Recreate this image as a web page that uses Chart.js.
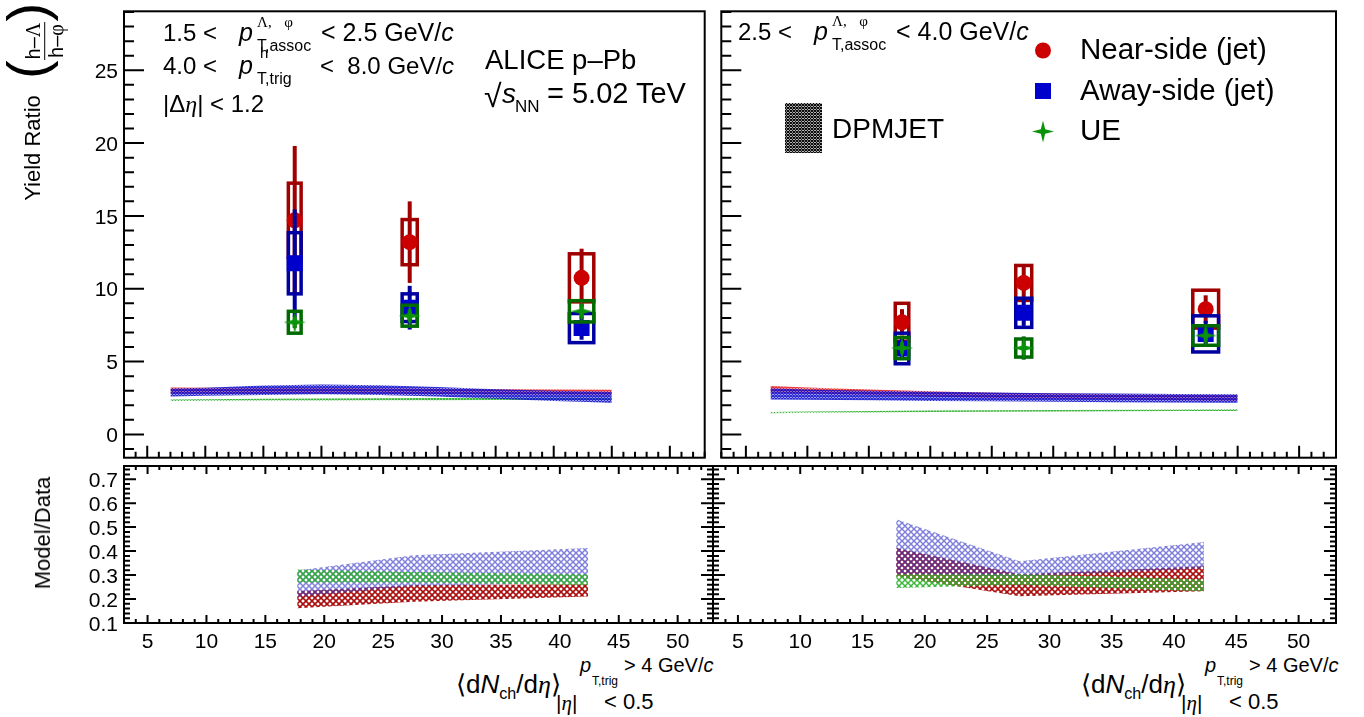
<!DOCTYPE html>
<html>
<head>
<meta charset="utf-8">
<title>h-Lambda / h-phi yield ratio vs multiplicity</title>
<script src="https://cdn.jsdelivr.net/npm/chart.js@4.4.1/dist/chart.umd.min.js"></script>
<style>
  body { margin: 0; width: 1364px; height: 717px; background: #fff; position: relative; overflow: hidden;
         font-family: "Liberation Sans", Arial, Helvetica, sans-serif; }
  canvas { position: absolute; }
  .t { position: absolute; white-space: nowrap; line-height: 1; color: #000; }
  .g { font-family: "Liberation Serif", "DejaVu Serif", serif; font-style: italic; }
  .s { font-family: "Liberation Serif", "DejaVu Serif", serif; }
  .sb { position: relative; top: 0.35em; font-size: 0.62em; }
  .rot { position: absolute; white-space: nowrap; line-height: 1; transform: translate(-50%, -50%) rotate(-90deg); }
</style>
</head>
<body>
<canvas id="topLeft"></canvas>
<canvas id="topRight"></canvas>
<canvas id="botLeft"></canvas>
<canvas id="botRight"></canvas>
<script>
// multiplicity classes and half-widths of the systematic boxes
const multX = [17.7, 27.6, 42.4];
const multXErr = [0.55, 0.65, 1.05];

// 1.5 < pT,assoc < 2.5 GeV/c
const nearA = [14.7, 13.2, 10.75];
const nearAStat = [5.1, 2.8, 2.0];
const nearASyst = [2.55, 1.55, 1.65];
const awayA = [11.75, 8.7, 7.3];
const awayAStat = [3.7, 1.5, 0.8];
const awayASyst = [2.1, 0.95, 1.0];
const ueA = [7.7, 8.15, 8.45];
const ueAStat = [0.4, 0.45, 0.5];
const ueASyst = [0.75, 0.72, 0.73];

// 2.5 < pT,assoc < 4.0 GeV/c
const nearB = [7.7, 10.4, 8.6];
const nearBStat = [0.9, 1.3, 0.95];
const nearBSyst = [1.3, 1.2, 1.3];
const awayB = [5.9, 8.35, 6.9];
const awayBStat = [0.8, 0.9, 0.9];
const awayBSyst = [1.05, 1.0, 1.24];
const ueB = [5.93, 5.93, 6.79];
const ueBStat = [0.4, 0.8, 0.5];
const ueBSyst = [0.73, 0.62, 0.67];

// DPMJET predictions (bands, lower/upper edge)
const dpmX = [7, 10, 15, 20, 25, 30, 35, 40, 45];
const dpmNearALo = [2.8, 2.8, 2.8, 2.82, 2.8, 2.77, 2.74, 2.72, 2.7];
const dpmNearAHi = [3.22, 3.2, 3.18, 3.2, 3.17, 3.13, 3.1, 3.08, 3.07];
const dpmAwayALo = [2.6, 2.65, 2.7, 2.75, 2.7, 2.6, 2.45, 2.3, 2.18];
const dpmAwayAHi = [3.15, 3.2, 3.35, 3.43, 3.38, 3.25, 3.1, 3.0, 2.93];
const dpmUeALo = [2.3, 2.31, 2.32, 2.33, 2.34, 2.35, 2.36, 2.37, 2.36];
const dpmUeAHi = [2.4, 2.42, 2.44, 2.46, 2.48, 2.5, 2.51, 2.52, 2.52];

const dpmNearBLo = [2.86, 2.8, 2.7, 2.6, 2.5, 2.45, 2.4, 2.35, 2.3];
const dpmNearBHi = [3.32, 3.22, 3.08, 2.96, 2.86, 2.8, 2.76, 2.73, 2.7];
const dpmAwayBLo = [2.4, 2.38, 2.34, 2.3, 2.27, 2.24, 2.21, 2.19, 2.18];
const dpmAwayBHi = [3.16, 3.09, 3.0, 2.93, 2.88, 2.83, 2.8, 2.77, 2.75];
const dpmUeBLo = [1.45, 1.48, 1.51, 1.54, 1.56, 1.58, 1.59, 1.6, 1.61];
const dpmUeBHi = [1.54, 1.57, 1.61, 1.64, 1.66, 1.68, 1.7, 1.71, 1.72];

// model / data
const ratioNearALo = [0.162, 0.189, 0.211];
const ratioNearAHi = [0.232, 0.259, 0.262];
const ratioAwayALo = [0.209, 0.254, 0.269];
const ratioAwayAHi = [0.319, 0.383, 0.413];
const ratioUeALo = [0.269, 0.269, 0.259];
const ratioUeAHi = [0.323, 0.313, 0.303];

const ratioNearBLo = [0.294, 0.212, 0.232];
const ratioNearBHi = [0.413, 0.303, 0.337];
const ratioAwayBLo = [0.303, 0.293, 0.328];
const ratioAwayBHi = [0.533, 0.358, 0.438];
const ratioUeBLo = [0.246, 0.26, 0.232];
const ratioUeBHi = [0.303, 0.303, 0.281];

// axes
const xRange = [3, 53];
const xTickLabels = [5, 10, 15, 20, 25, 30, 35, 40, 45, 50];
const yTopRange = [-1.6, 29.05];
const yTopTickLabels = [0, 5, 10, 15, 20, 25];
const yBotRange = [0.1, 0.755];
const yBotTickLabels = [0.1, 0.2, 0.3, 0.4, 0.5, 0.6, 0.7];

const FONT = '"Liberation Sans", Arial, Helvetica, sans-serif';
const RED = '#cc0000', RED_BOX = '#a00000';
const BLUE = '#0000cc', BLUE_BOX = '#0000a0';
const GREEN = '#0a930a', GREEN_BOX = '#006a00';

function hatch(color, size, width) {
  const c = document.createElement('canvas');
  c.width = c.height = size;
  const g = c.getContext('2d');
  g.strokeStyle = color;
  g.lineWidth = width;
  g.beginPath();
  g.moveTo(0, 0); g.lineTo(size, size);
  g.moveTo(size, 0); g.lineTo(0, size);
  g.stroke();
  return g.createPattern(c, 'repeat');
}

function drawStar(g, x, y, r, color) {
  const ri = r * 0.28;
  g.beginPath();
  for (let k = 0; k < 8; k++) {
    const ang = -Math.PI / 2 + k * Math.PI / 4;
    const rr = k % 2 ? ri : r;
    g.lineTo(x + rr * Math.cos(ang), y + rr * Math.sin(ang));
  }
  g.closePath();
  g.fillStyle = color;
  g.fill();
}

function starImage(color, r) {
  const c = document.createElement('canvas');
  const s = Math.ceil(2 * r + 2);
  c.width = c.height = s;
  drawStar(c.getContext('2d'), s / 2, s / 2, r, color);
  return c;
}
const ueStar = starImage(GREEN, 11);

function pts(ys) {
  return ys.map((y, i) => ({ x: multX[i], y }));
}

// higher order is drawn first (underneath)
function band(xs, lo, hi, pattern, order) {
  return [
    { type: 'line', data: lo.map((y, i) => ({ x: xs[i], y })), borderWidth: 0, pointRadius: 0, fill: false, order },
    { type: 'line', data: hi.map((y, i) => ({ x: xs[i], y })), borderWidth: 0, pointRadius: 0, fill: '-1',
      backgroundColor: pattern, order }
  ];
}

function marks(ys, stat, syst, style, color, boxColor, order) {
  const ds = { type: 'scatter', data: pts(ys), stat, syst, boxColor, order,
               pointBackgroundColor: color, pointBorderColor: color, pointBorderWidth: 0 };
  if (style === 'circle') { ds.pointStyle = 'circle'; ds.pointRadius = 8; }
  else if (style === 'rect') { ds.pointStyle = 'rect'; ds.pointRadius = 11.3; }
  else { ds.pointStyle = ueStar; ds.pointRadius = 11; }
  return ds;
}

function forTicks(min, max, step, major, fn) {
  const k0 = Math.ceil(min / step - 1e-6), k1 = Math.floor(max / step + 1e-6);
  const ratio = Math.round(major / step);
  for (let k = k0; k <= k1; k++) fn(k * step, k % ratio === 0);
}

// frame with inward ticks, ROOT style
const rootFrame = {
  id: 'rootFrame',
  afterDraw(chart, args, o) {
    const { ctx, chartArea: a, scales: { x, y } } = chart;
    ctx.save();
    ctx.strokeStyle = '#000';
    ctx.lineWidth = 2;
    ctx.beginPath();
    forTicks(x.min, x.max, o.xMinor, o.xMajor, (v, major) => {
      const px = x.getPixelForValue(v), len = major ? o.xLen[0] : o.xLen[1];
      ctx.moveTo(px, a.bottom); ctx.lineTo(px, a.bottom - len);
      if (o.xTop) { ctx.moveTo(px, a.top); ctx.lineTo(px, a.top + len); }
    });
    forTicks(y.min, y.max, o.yMinor, o.yMajor, (v, major) => {
      const py = y.getPixelForValue(v), len = major ? o.yLen[0] : o.yLen[1];
      ctx.moveTo(a.left, py); ctx.lineTo(a.left + len, py);
      if (o.yRight) { ctx.moveTo(a.right, py); ctx.lineTo(a.right - len, py); }
    });
    ctx.stroke();
    ctx.strokeRect(a.left, a.top, a.right - a.left, a.bottom - a.top);
    ctx.restore();
  }
};

// systematic boxes and statistical bars, drawn just before each marker set
const errorBoxes = {
  id: 'errorBoxes',
  beforeDatasetDraw(chart, args) {
    const ds = chart.data.datasets[args.index];
    if (!ds.stat) return;
    const { ctx, scales: { x, y } } = chart;
    ctx.save();
    ctx.strokeStyle = ds.boxColor;
    ds.data.forEach((p, i) => {
      const xl = x.getPixelForValue(p.x - multXErr[i]), xr = x.getPixelForValue(p.x + multXErr[i]);
      const yt = y.getPixelForValue(p.y + ds.syst[i]), yb = y.getPixelForValue(p.y - ds.syst[i]);
      ctx.lineWidth = 3.5;
      ctx.strokeRect(xl, yt, xr - xl, yb - yt);
      const xc = x.getPixelForValue(p.x);
      ctx.lineWidth = 4;
      ctx.beginPath();
      ctx.moveTo(xc, y.getPixelForValue(p.y + ds.stat[i]));
      ctx.lineTo(xc, y.getPixelForValue(p.y - ds.stat[i]));
      ctx.stroke();
    });
    ctx.restore();
  }
};

// text placed by its baseline
function txt(html, x, base, size, align) {
  const d = document.createElement('div');
  d.className = 't';
  d.style.left = x + 'px';
  d.style.top = (base - 0.847 * size) + 'px';
  d.style.fontSize = size + 'px';
  if (align === 'center') d.style.transform = 'translateX(-50%)';
  if (align === 'right') d.style.transform = 'translateX(-100%)';
  d.innerHTML = html;
  document.body.appendChild(d);
  return d;
}
function rot(html, cx, cy, size) {
  const d = document.createElement('div');
  d.className = 'rot';
  d.style.left = cx + 'px';
  d.style.top = cy + 'px';
  d.style.fontSize = size + 'px';
  d.innerHTML = html;
  document.body.appendChild(d);
  return d;
}

function panel(id, frame, pad, opt) {
  const cv = document.getElementById(id);
  const w = frame[2] - frame[0] + pad.l + pad.r;
  const h = frame[3] - frame[1] + pad.t + pad.b;
  const off = [frame[0] - pad.l, frame[1] - pad.t];
  cv.width = w; cv.height = h;
  cv.style.width = w + 'px'; cv.style.height = h + 'px';
  cv.style.left = off[0] + 'px';
  cv.style.top = off[1] + 'px';
  const chart = new Chart(cv.getContext('2d'), {
    type: 'scatter',
    data: { datasets: opt.datasets },
    options: {
      responsive: false, animation: false, events: [], devicePixelRatio: 1,
      layout: { padding: { left: pad.l, right: pad.r, top: pad.t, bottom: pad.b } },
      plugins: { legend: { display: false }, tooltip: { enabled: false }, rootFrame: opt.frame },
      scales: {
        x: { type: 'linear', display: false, min: xRange[0], max: xRange[1] },
        y: { type: 'linear', display: false, min: opt.yRange[0], max: opt.yRange[1] }
      }
    },
    plugins: [rootFrame, errorBoxes].concat(opt.extra || [])
  });
  // tick labels, positioned from the chart's own scales
  const a = chart.chartArea;
  if (opt.xLabels) {
    xTickLabels.forEach(v => {
      txt(String(v), chart.scales.x.getPixelForValue(v) + off[0], a.bottom + off[1] + 25, 21, 'center');
    });
  }
  if (opt.yLabels) {
    opt.yTicks.forEach(v => {
      const py = chart.scales.y.getPixelForValue(v) + off[1];
      txt(opt.yFmt ? opt.yFmt(v) : String(v), a.left + off[0] - 6, py + 0.358 * 21, 21, 'right');
    });
  }
  return chart;
}

const topFrame = { xMajor: 5, xMinor: 1, xLen: [12, 6], yMajor: 5, yMinor: 1, yLen: [20, 10], xTop: false, yRight: false };
const botFrame = { xMajor: 5, xMinor: 1, xLen: [8, 4], yMajor: 0.1, yMinor: 0.02, yLen: [12, 6], xTop: true, yRight: true };

function topSets(nLo, nHi, aLo, aHi, uLo, uHi, near, nearStat, nearSyst, away, awayStat, awaySyst, ue, ueStat, ueSyst) {
  return [].concat(
    band(dpmX, aLo, aHi, hatch('rgba(20,20,210,0.9)', 3, 1.3), 10),
    band(dpmX, nLo, nHi, hatch('rgba(235,30,30,0.9)', 3, 1.3), 11),
    band(dpmX, uLo, uHi, hatch('rgba(30,170,30,0.9)', 3, 1.2), 12),
    [marks(near, nearStat, nearSyst, 'circle', RED, RED_BOX, 3),
     marks(away, awayStat, awaySyst, 'rect', BLUE, BLUE_BOX, 2),
     marks(ue, ueStat, ueSyst, 'star', GREEN, GREEN_BOX, 1)]
  );
}

function botSets(nLo, nHi, aLo, aHi, uLo, uHi) {
  return [].concat(
    band(multX, nLo, nHi, hatch('rgba(165,0,0,0.95)', 6, 1.6), 12),
    band(multX, aLo, aHi, hatch('rgba(60,60,200,0.65)', 6, 1.5), 11),
    band(multX, uLo, uHi, hatch('rgba(40,175,40,0.9)', 6, 1.5), 10)
  );
}

// legend symbols drawn on the right panel
const OFF_R = [710, 0];
const legendMarks = {
  id: 'legendMarks',
  afterDraw(chart) {
    const ctx = chart.ctx;
    ctx.save();
    ctx.fillStyle = RED;
    ctx.beginPath();
    ctx.arc(1043 - OFF_R[0], 50.5 - OFF_R[1], 8, 0, 2 * Math.PI);
    ctx.fill();
    ctx.fillStyle = BLUE;
    ctx.fillRect(1035 - OFF_R[0], 83 - OFF_R[1], 16, 16);
    drawStar(ctx, 1043 - OFF_R[0], 131.5 - OFF_R[1], 11, GREEN);
    ctx.fillStyle = hatch('#000', 3, 1.1);
    ctx.fillRect(785 - OFF_R[0], 103 - OFF_R[1], 37, 50);
    ctx.restore();
  }
};

Chart.defaults.font.family = FONT;

panel('topLeft', [124, 5, 713, 466], { l: 124, t: 5, r: 3, b: 3 }, {
  datasets: topSets(dpmNearALo, dpmNearAHi, dpmAwayALo, dpmAwayAHi, dpmUeALo, dpmUeAHi,
                    nearA, nearAStat, nearASyst, awayA, awayAStat, awayASyst, ueA, ueAStat, ueASyst),
  yRange: yTopRange, yTicks: yTopTickLabels, xLabels: false, yLabels: true, frame: topFrame
});

panel('topRight', [713, 5, 1336, 466], { l: 3, t: 5, r: 20, b: 3 }, {
  datasets: topSets(dpmNearBLo, dpmNearBHi, dpmAwayBLo, dpmAwayBHi, dpmUeBLo, dpmUeBHi,
                    nearB, nearBStat, nearBSyst, awayB, awayBStat, awayBSyst, ueB, ueBStat, ueBSyst),
  yRange: yTopRange, yTicks: yTopTickLabels, xLabels: false, yLabels: false, frame: topFrame,
  extra: [legendMarks]
});

panel('botLeft', [124, 466, 713, 623], { l: 124, t: 3, r: 3, b: 30 }, {
  datasets: botSets(ratioNearALo, ratioNearAHi, ratioAwayALo, ratioAwayAHi, ratioUeALo, ratioUeAHi),
  yRange: yBotRange, yTicks: yBotTickLabels, xLabels: true, yLabels: true, frame: botFrame,
  yFmt: v => v.toFixed(1)
});

panel('botRight', [713, 466, 1336, 623], { l: 3, t: 3, r: 20, b: 30 }, {
  datasets: botSets(ratioNearBLo, ratioNearBHi, ratioAwayBLo, ratioAwayBHi, ratioUeBLo, ratioUeBHi),
  yRange: yBotRange, yTicks: yBotTickLabels, xLabels: true, yLabels: false, frame: botFrame
});

// kinematic selections
function assocLine(x0, base, lo, hi) {
  txt(lo + ' &lt;', x0, base, 24);
  txt('<i>p</i>', x0 + 76, base, 25);
  txt('<span class="s">Λ,</span>&nbsp;&nbsp;&nbsp;<span class="s">φ</span>', x0 + 94, base - 14, 15);
  txt('T,assoc', x0 + 94, base + 11, 16);
  txt('&lt; ' + hi + ' GeV/<i>c</i>', x0 + 158, base, 25);
}
assocLine(163, 41, '1.5', '2.5');
txt('4.0 &lt;', 163, 74, 24);
txt('<i>p</i>', 239, 74, 25);
txt('h', 260, 58, 15);
txt('T,trig', 257, 85, 16);
txt('&lt;&nbsp; 8.0 GeV/<i>c</i>', 320, 74, 24);
txt('|Δ<span class="g">η</span>| &lt; 1.2', 163, 112, 24);

assocLine(738, 40, '2.5', '4.0');

txt('ALICE p–Pb', 485, 69, 27.5);
txt('√', 484, 107, 32);
txt('<i>s</i>', 502, 104, 28);
txt('NN', 515, 112, 17);
txt('= 5.02 TeV', 547, 104, 29);

// legend
txt('Near-side (jet)', 1080, 59, 29.5);
txt('Away-side (jet)', 1080, 100, 29.5);
txt('UE', 1080, 140, 29.5);
txt('DPMJET', 832, 139, 28);

// axis titles
rot('Yield Ratio', 33, 148, 22);
rot('<span style="font-size:56px;font-weight:100;position:relative;top:-4px">(</span>' +
    '<span style="display:inline-block;vertical-align:middle;text-align:center;font-size:20px;line-height:1.02">' +
    '<span style="display:block;padding:0 1px 1px;border-bottom:1.5px solid #000">h–<span class="s">Λ</span></span>' +
    '<span style="display:block;padding-top:1px">h–<span class="s">φ</span></span></span>' +
    '<span style="font-size:56px;font-weight:100;position:relative;top:-4px">)</span>', 35, 41, 20);
rot('Model/Data', 43, 533, 22);

function xTitle(dx) {
  txt('⟨d<i>N</i><span class="sb">ch</span>/d<span class="g">η</span>⟩', 456 + dx, 693, 26);
  txt('<i>p</i>', 580 + dx, 672, 20);
  txt('T,trig', 592 + dx, 685, 12);
  txt('&gt; 4 GeV/<i>c</i>', 624 + dx, 672, 20);
  txt('|<span class="g">η</span>|', 556 + dx, 710, 21);
  txt('&lt; 0.5', 604 + dx, 710, 22);
}
xTitle(0);
xTitle(625);
</script>
</body>
</html>
